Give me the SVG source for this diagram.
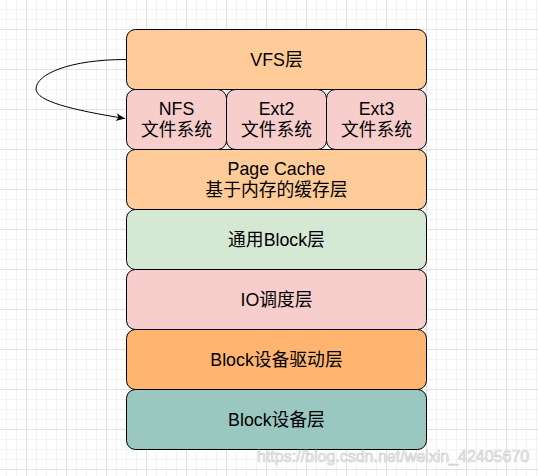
<svg xmlns="http://www.w3.org/2000/svg" width="538" height="476" viewBox="0 0 538 476">
<style>
.box{stroke:#000;stroke-width:1}
.t{font-family:"Liberation Sans","Noto Sans CJK SC",sans-serif;font-size:17.8px;fill:#000;text-anchor:middle}
.wm{font-family:"Liberation Sans",Arial,sans-serif;font-size:16px;fill:#f4f4f4;stroke:#cfcfcf;stroke-width:0.7}
</style>
<defs>
<pattern id="grid" patternUnits="userSpaceOnUse" x="26" y="29" width="40" height="40">
<path d="M10.5,0V40M20.5,0V40M30.5,0V40M0,10.5H40M0,20.5H40M0,30.5H40" stroke="#f3f3f3" stroke-width="1" fill="none"/>
<path d="M0.5,0V40M0,0.5H40" stroke="#e2e2e2" stroke-width="1" fill="none"/>
</pattern>
<marker id="arr" markerUnits="userSpaceOnUse" markerWidth="12" markerHeight="12" viewBox="-10 -6 12 12" refX="0" refY="0" orient="auto">
<path d="M0,0 L-9,-4 L-6.5,0 L-9,4 Z" fill="#000"/>
</marker>
</defs>
<rect width="538" height="476" fill="#fff"/>
<rect width="538" height="476" fill="url(#grid)"/>
<g id="connectors">
<path d="M126,59.5 C70,59.5 36,74 36,89 C36,101 72,110 125,118.5" fill="none" stroke="#000" stroke-width="1" marker-end="url(#arr)"/>
</g>
<g id="vfs"><rect class="box" x="126.5" y="29.5" width="300" height="60" rx="9" fill="#ffcc99"/><text class="t" x="276.5" y="65.5">VFS层</text></g>
<g id="nfs"><rect class="box" x="126.5" y="89.5" width="100" height="60" rx="9" fill="#f8cecc"/><text class="t" x="176.5" y="114.5">NFS</text><text class="t" x="176.5" y="135.5">文件系统</text></g>
<g id="ext2"><rect class="box" x="226.5" y="89.5" width="100" height="60" rx="9" fill="#f8cecc"/><text class="t" x="276.5" y="114.5">Ext2</text><text class="t" x="276.5" y="135.5">文件系统</text></g>
<g id="ext3"><rect class="box" x="326.5" y="89.5" width="100" height="60" rx="9" fill="#f8cecc"/><text class="t" x="376.5" y="114.5">Ext3</text><text class="t" x="376.5" y="135.5">文件系统</text></g>
<g id="pagecache"><rect class="box" x="126.5" y="149.5" width="300" height="60" rx="9" fill="#ffcc99"/><text class="t" x="276.5" y="175">Page Cache</text><text class="t" x="276.5" y="196">基于内存的缓存层</text></g>
<g id="block"><rect class="box" x="126.5" y="209.5" width="300" height="60" rx="9" fill="#d5e8d4"/><text class="t" x="276.5" y="245.5">通用Block层</text></g>
<g id="io"><rect class="box" x="126.5" y="269.5" width="300" height="60" rx="9" fill="#f8cecc"/><text class="t" x="276.5" y="305.5">IO调度层</text></g>
<g id="driver"><rect class="box" x="126.5" y="329.5" width="300" height="60" rx="9" fill="#ffb570"/><text class="t" x="276.5" y="365.5">Block设备驱动层</text></g>
<g id="device"><rect class="box" x="126.5" y="389.5" width="300" height="60" rx="9" fill="#9ac7bf"/><text class="t" x="276.5" y="425.5">Block设备层</text></g>
<text class="wm" x="257" y="462">https://blog.csdn.net/weixin_42405670</text>
</svg>
